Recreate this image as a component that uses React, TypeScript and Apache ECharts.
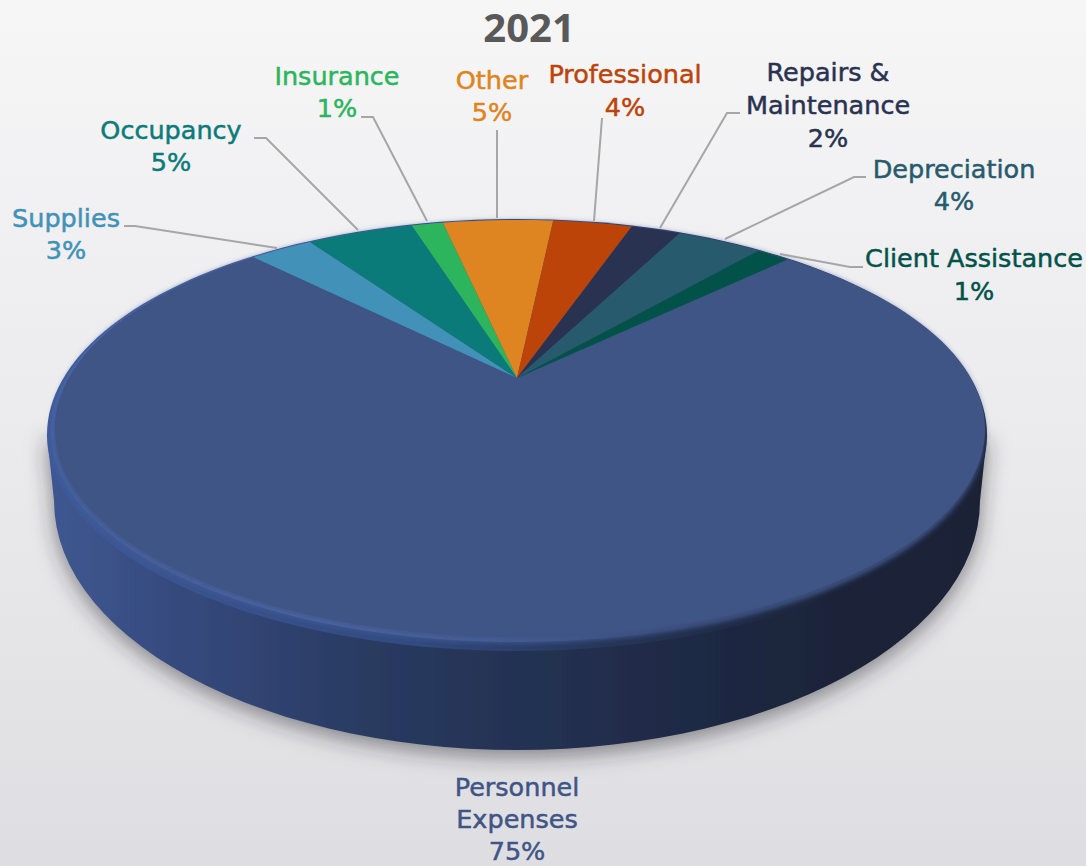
import React, { useEffect, useRef } from "react";
import * as echarts from "echarts";

const categories = ["Personnel Expenses", "Supplies", "Occupancy", "Insurance", "Other", "Professional", "Repairs & Maintenance", "Depreciation", "Client Assistance"];
const values = [75.36, 2.78, 4.69, 1.39, 4.88, 3.5, 2.19, 3.74, 1.47];
const colors = ["#3f5586", "#4191b8", "#0b7b7a", "#2db55d", "#de8420", "#bc4409", "#293250", "#285a6e", "#03524a"];
const labelLines = [["Personnel", "Expenses"], ["Supplies"], ["Occupancy"], ["Insurance"], ["Other"], ["Professional"], ["Repairs &", "Maintenance"], ["Depreciation"], ["Client Assistance"]];
const labelX = [517, 66, 171, 337, 492, 625, 828, 954, 974];
const labelY = [787, 218, 130, 76, 80, 74, 72, 169, 258];
const labelStep = [32, 32, 32, 32, 32, 33, 33, 32, 33];
const leaders: number[][][] = [
  [],
  [[124, 226], [135, 226], [277, 248]],
  [[254, 138], [266, 138], [358, 230]],
  [[361, 117], [373, 117], [427, 221]],
  [[497, 130], [497, 218]],
  [[602, 118], [594, 221]],
  [[740, 113], [727, 113], [660, 228]],
  [[866, 177], [854, 177], [725, 239]],
  [[863, 267], [850, 267], [780, 254]],
];

const START_DEG = 45;
const APEX = { x: 517, y: 378 };
const R = 448;
const S = 196.3;
const K = -0.242;

function project(deg: number): number[] {
  const t = (deg * Math.PI) / 180;
  const d = 1 - K * Math.cos(t);
  return [APEX.x + (R * Math.sin(t)) / d, APEX.y - (S * Math.cos(t)) / d];
}

const total = values.reduce((a, b) => a + b, 0);

function sliceElement(params: any, api: any) {
  const i = params.dataIndex;
  const before = values.slice(0, i).reduce((a, b) => a + b, 0);
  const v = api.value(0);
  const a0 = START_DEG + (before / total) * 360;
  const a1 = a0 + (v / total) * 360;
  const pts: number[][] = [[APEX.x, APEX.y]];
  const n = Math.max(4, Math.ceil(a1 - a0));
  for (let k = 0; k <= n; k++) pts.push(project(a0 + ((a1 - a0) * k) / n));
  const children: any[] = [
    {
      type: "polygon",
      shape: { points: pts },
      style: { fill: colors[i] },
    },
  ];
  if (leaders[i].length) {
    children.push({
      type: "polyline",
      shape: { points: leaders[i] },
      style: { stroke: "#a6a6a6", lineWidth: 2, fill: "none" },
    });
  }
  const lines = [...labelLines[i], Math.round(v) + "%"];
  lines.forEach((text, li) => {
    children.push({
      type: "text",
      style: {
        text,
        x: labelX[i],
        y: labelY[i] + li * labelStep[i],
        fill: colors[i],
        stroke: colors[i],
        lineWidth: 0.5,
        font: `500 25.5px "DejaVu Sans", sans-serif`,
        align: "center",
        verticalAlign: "middle",
      },
    });
  });
  return { type: "group", children };
}

function baseElement() {
  const wallPts: number[][] = [[517 - 470, 435]];
  for (let a = 180; a >= 0; a -= 3) {
    const t = (a * Math.PI) / 180;
    wallPts.push([517 + 463 * Math.cos(t), 501 + 249 * Math.sin(t)]);
  }
  wallPts.push([517 + 470, 435]);
  return {
    type: "group",
    children: [
      {
        type: "polygon",
        shape: { points: wallPts },
        style: {
          fill: new echarts.graphic.LinearGradient(0, 0, 1, 0, [
            { offset: 0, color: "#3f5891" },
            { offset: 0.15, color: "#35497c" },
            { offset: 0.35, color: "#293a60" },
            { offset: 0.6, color: "#212d4b" },
            { offset: 0.85, color: "#1b2338" },
            { offset: 1, color: "#1b2236" },
          ]),
          shadowBlur: 22,
          shadowOffsetY: 6,
          shadowColor: "rgba(40,40,50,0.55)",
        },
      },
      {
        type: "ellipse",
        shape: { cx: 517, cy: 435, rx: 470, ry: 216 },
        style: {
          fill: new echarts.graphic.LinearGradient(0, 0, 1, 0, [
            { offset: 0, color: "#3f5a9a" },
            { offset: 0.4, color: "#324a80" },
            { offset: 0.6, color: "#263658" },
            { offset: 0.85, color: "#1b2338" },
            { offset: 1, color: "#1b2236" },
          ]),
        },
      },
      {
        type: "ellipse",
        shape: { cx: 517, cy: 431, rx: 466, ry: 211 },
        style: {
          fill: new echarts.graphic.LinearGradient(0, 0, 1, 0, [
            { offset: 0, color: "#4565a8" },
            { offset: 0.3, color: "#4e6cb0" },
            { offset: 0.5, color: "#44609c" },
            { offset: 0.7, color: "#2e3f68" },
            { offset: 1, color: "#232d49" },
          ]),
          shadowBlur: 5,
          shadowColor: "rgba(70,100,165,0.6)",
        },
      },
      {
        type: "ellipse",
        shape: { cx: 520, cy: 429, rx: 465, ry: 208 },
        style: {
          fill: "#3f5586",
          shadowBlur: 6,
          shadowOffsetY: 4,
          shadowOffsetX: -1,
          shadowColor: "rgba(63,85,134,0.9)",
        },
      },
    ],
  };
}

const option = {
  animation: false,
  backgroundColor: new echarts.graphic.LinearGradient(0, 0, 0, 1, [
    { offset: 0, color: "#f6f6f7" },
    { offset: 0.5, color: "#ebebed" },
    { offset: 1, color: "#dedee2" },
  ]),
  title: {
    text: "2021",
    left: 529,
    top: 6,
    padding: 0,
    textAlign: "center",
    textStyle: { color: "#595959", fontSize: 40, lineHeight: 40, fontWeight: 700, fontFamily: '"Open Sans", sans-serif' },
  },
  series: [
    { type: "custom", name: "base", coordinateSystem: "none", silent: true, data: [0], renderItem: baseElement },
    {
      type: "custom",
      name: "2021",
      coordinateSystem: "none",
      silent: true,
      data: categories.map((name, i) => ({ name, value: [values[i]] })),
      renderItem: sliceElement,
    },
  ],
};

export default function App() {
  const ref = useRef<HTMLDivElement>(null);
  useEffect(() => {
    const chart = echarts.init(ref.current as HTMLDivElement, undefined, { renderer: "svg" });
    chart.setOption(option as any);
    return () => chart.dispose();
  }, []);
  return <div ref={ref} style={{ position: "absolute", left: 0, top: 0, width: 1086, height: 866 }} />;
}
